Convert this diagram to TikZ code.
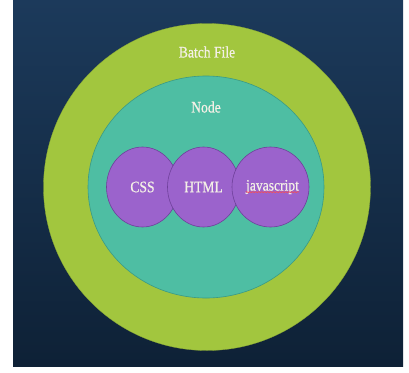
\documentclass[tikz,border=0pt]{standalone}
\usepackage{fontspec}
\setmainfont[FakeStretch=0.85, FakeBold=0.6]{Liberation Serif}
\usetikzlibrary{shapes.geometric,decorations.pathmorphing}

\definecolor{navytop}{HTML}{1C3A5B}
\definecolor{navybot}{HTML}{0E2136}
\definecolor{batchgreen}{HTML}{A2C63E}
\definecolor{nodeteal}{HTML}{4EBEA3}
\definecolor{tealline}{HTML}{3A9A86}
\definecolor{webpurple}{HTML}{9B63CC}
\definecolor{purpleline}{HTML}{6E409A}
\definecolor{labelwhite}{HTML}{F4F0E6}

\tikzset{
  layer/.style={ellipse, inner sep=0pt},
  tech/.style={layer, fill=webpurple, draw=purpleline, line width=0.6pt,
    minimum height=80pt},
  caption/.style={text=labelwhite, font=\fontsize{16}{18}\selectfont, inner sep=0pt}
}

\begin{document}
\begin{tikzpicture}[x=1pt, y=-1pt]
				% page and dark backdrop
				\useasboundingbox (0,0) rectangle (409,372);
				\fill[white] (0,0) rectangle (409,372);
				\shade[top color=navytop, bottom color=navybot] (13,0) rectangle (403,366);
				
				% the three layers
				\node[layer, fill=batchgreen, draw=batchgreen!85!black, line width=0.3pt,
				minimum width=327pt, minimum height=327pt] (batch) at (207,187) {};
				\node[layer, fill=nodeteal, draw=tealline, line width=0.6pt,
				minimum width=236pt, minimum height=222pt] (node) at (206,187) {};
				
				\node[tech, minimum width=72pt] (css) at (142.5,187) {};
				\node[tech, minimum width=72pt] (html) at (203.5,187) {};
				\node[tech, minimum width=77pt] (js) at (270.5,187) {};
				
				% labels
				\node[caption] (batchlbl) at (207,52) {Batch File};
				\node[caption] (nodelbl) at (206,107) {Node};
				\node[caption] (csslbl) at (css) {CSS};
				\node[caption] (htmllbl) at (html) {HTML};
				\node[caption] (jslbl) at ([xshift=2pt]js.center) {javascript};
				
				\draw[red!70!white, line width=0.6pt,
				decorate, decoration={snake, amplitude=0.5pt, segment length=3pt}]
				([yshift=-1.5pt]jslbl.base west) -- ([yshift=-1.5pt]jslbl.base east);
				
			\end{tikzpicture}
\end{document}
